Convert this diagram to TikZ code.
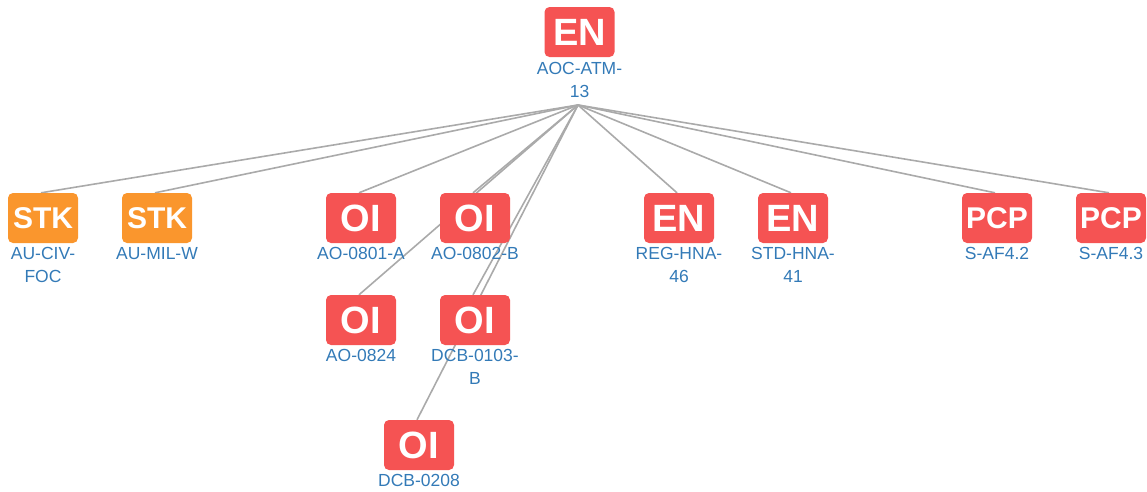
\documentclass[tikz,border=0pt]{standalone}
\usepackage{fontspec}
\setmainfont{Liberation Sans}
\usetikzlibrary{backgrounds}
\definecolor{boxred}{RGB}{245,83,83}
\definecolor{boxorange}{RGB}{250,150,45}
\definecolor{lblblue}{RGB}{51,122,183}
\definecolor{edgegray}{RGB}{170,170,170}
\tikzset{
  box/.style={rounded corners=5pt, minimum width=70pt, minimum height=50pt, inner sep=0pt, text=white, font=\bfseries\fontsize{38}{38}\selectfont},
  redbox/.style={box, fill=boxred},
  orangebox/.style={box, fill=boxorange, font=\bfseries\fontsize{30}{30}\selectfont},
  smallred/.style={redbox, font=\bfseries\fontsize{30}{30}\selectfont},
  lbl/.style={text=lblblue, inner sep=0pt, align=center, anchor=base, font=\fontsize{17.5}{23}\selectfont},
  edge/.style={draw=edgegray, line width=1.6pt}
}
\begin{document}
\begin{tikzpicture}[x=1pt,y=-1pt]
\useasboundingbox (0,0) rectangle (1147,491);
% nodes
\node[redbox] (root) at (579.5,32) {EN};
\node[lbl] (rootl) at (579.5,97) {AOC-ATM-\\13};
\coordinate (hub) at (578,105);

\node[orangebox] (stk1) at (43,218) {STK};
\node[lbl] (stk1l) at (43,282) {AU-CIV-\\FOC};
\node[orangebox] (stk2) at (157,218) {STK};
\node[lbl] (stk2l) at (157,259) {AU-MIL-W};
\node[redbox] (oi1) at (361,218) {OI};
\node[lbl] (oi1l) at (361,259) {AO-0801-A};
\node[redbox] (oi2) at (475,218) {OI};
\node[lbl] (oi2l) at (475,259) {AO-0802-B};
\node[redbox] (en1) at (679,218) {EN};
\node[lbl] (en1l) at (679,282) {REG-HNA-\\46};
\node[redbox] (en2) at (793,218) {EN};
\node[lbl] (en2l) at (793,282) {STD-HNA-\\41};
\node[smallred] (pcp1) at (997,218) {PCP};
\node[lbl] (pcp1l) at (997,259) {S-AF4.2};
\node[smallred] (pcp2) at (1111,218) {PCP};
\node[lbl] (pcp2l) at (1111,259) {S-AF4.3};

\node[redbox] (oi3) at (361,320) {OI};
\node[lbl] (oi3l) at (361,361) {AO-0824};
\node[redbox] (oi4) at (475,320) {OI};
\node[lbl] (oi4l) at (475,384) {DCB-0103-\\B};
\node[redbox] (oi5) at (419,445) {OI};
\node[lbl] (oi5l) at (419,486) {DCB-0208};

\begin{scope}[on background layer]
\foreach \n in {stk1,stk2,oi1,oi2,en1,en2,pcp1,pcp2,oi3,oi4,oi5}
  \draw[edge] (hub) -- ([xshift=-2pt]\n.north);
\end{scope}
\end{tikzpicture}
\end{document}
